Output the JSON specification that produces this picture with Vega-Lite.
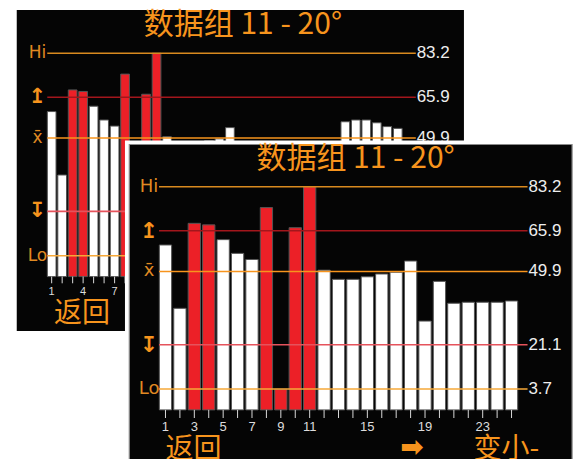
{
  "$schema": "https://vega.github.io/schema/vega-lite/v6.json",
  "width": 582,
  "height": 459,
  "autosize": {"type": "none"},
  "padding": 0,
  "background": "#ffffff",
  "config": {"view": {"stroke": null}},
  "datasets": {
    "bars": [
      {"i": 1, "v": 60.3}, {"i": 2, "v": 35.4}, {"i": 3, "v": 68.8}, {"i": 4, "v": 68.2},
      {"i": 5, "v": 62.4}, {"i": 6, "v": 57.0}, {"i": 7, "v": 54.6}, {"i": 8, "v": 75.0},
      {"i": 9, "v": 3.6}, {"i": 10, "v": 67.1}, {"i": 11, "v": 83.2}, {"i": 12, "v": 50.4},
      {"i": 13, "v": 46.8}, {"i": 14, "v": 46.8}, {"i": 15, "v": 47.8}, {"i": 16, "v": 48.9},
      {"i": 17, "v": 49.6}, {"i": 18, "v": 54.0}, {"i": 19, "v": 30.4}, {"i": 20, "v": 46.0},
      {"i": 21, "v": 37.4}, {"i": 22, "v": 37.8}, {"i": 23, "v": 37.8}, {"i": 24, "v": 37.8},
      {"i": 25, "v": 38.3}, {"i": 26, "v": 39.0}, {"i": 27, "v": 41.0}, {"i": 28, "v": 44.0},
      {"i": 29, "v": 56.3}, {"i": 30, "v": 57.0}, {"i": 31, "v": 57.0}, {"i": 32, "v": 55.9},
      {"i": 33, "v": 54.4}, {"i": 34, "v": 53.7}
    ],
    "levels": [
      {"name": "Hi", "sym": "Hi", "v": 83.2, "icon": false},
      {"name": "up", "sym": "↥", "v": 65.9, "icon": true},
      {"name": "mean", "sym": "x̄", "v": 49.9, "icon": false},
      {"name": "down", "sym": "↧", "v": 21.1, "icon": true},
      {"name": "Lo", "sym": "Lo", "v": 3.7, "icon": false}
    ],
    "one": [{}]
  },
  "resolve": {"scale": {"x": "independent", "y": "independent", "color": "independent"}},
  "layer": [
    {
      "layer": [
        {
          "data": {"name": "one"},
          "mark": {"type": "rect", "color": "#050505"},
          "encoding": {
            "x": {"datum": -2.33, "type": "quantitative", "scale": {"domain": [-3.45, 51.09], "nice": false, "zero": false}, "axis": null},
            "x2": {"datum": 40.31},
            "y": {"datum": 100.17, "type": "quantitative", "scale": {"domain": [-76.1, 104.1], "nice": false, "zero": false}, "axis": null},
            "y2": {"datum": -25.85}
          }
        },
        {
          "data": {"name": "bars"},
          "mark": {"type": "bar", "width": 8.7, "stroke": "#555555", "strokeWidth": 1},
          "encoding": {
            "x": {"field": "i", "type": "quantitative", "scale": {"domain": [-3.45, 51.09], "nice": false, "zero": false}, "axis": null},
            "y": {"field": "v", "type": "quantitative", "scale": {"domain": [-76.1, 104.1], "nice": false, "zero": false}, "axis": null},
            "y2": {"datum": -4.5},
            "fill": {"condition": {"test": "datum.v > 65.9 || datum.v < 21.1", "value": "#EC2027"}, "value": "#ffffff"}
          }
        },
        {
          "data": {"name": "bars"},
          "mark": {"type": "rule", "color": "#d8d8d8", "strokeWidth": 1},
          "encoding": {
            "x": {"field": "i", "type": "quantitative", "scale": {"domain": [-3.45, 51.09], "nice": false, "zero": false}, "axis": null},
            "y": {"datum": -4.5, "type": "quantitative", "scale": {"domain": [-76.1, 104.1], "nice": false, "zero": false}, "axis": null},
            "y2": {"datum": -7.12}
          }
        },
        {
          "data": {"name": "levels"},
          "mark": {"type": "rule", "strokeWidth": 1.6},
          "encoding": {
            "x": {"datum": 0.58, "type": "quantitative", "scale": {"domain": [-3.45, 51.09], "nice": false, "zero": false}, "axis": null},
            "x2": {"datum": 35.72},
            "y": {"field": "v", "type": "quantitative", "scale": {"domain": [-76.1, 104.1], "nice": false, "zero": false}, "axis": null},
            "color": {"field": "name", "type": "nominal", "scale": {"domain": ["Hi", "up", "mean", "down", "Lo"], "range": ["#D98A1F", "#A3161C", "#F7941D", "#E5535C", "#F6A838"]}, "legend": null}
          }
        },
        {
          "data": {"name": "levels"},
          "transform": [{"filter": "!datum.icon"}],
          "mark": {"type": "text", "align": "center", "baseline": "middle", "font": "DejaVu Sans", "fontSize": 17, "color": "#E08A22"},
          "encoding": {
            "x": {"datum": -0.36, "type": "quantitative", "scale": {"domain": [-3.45, 51.09], "nice": false, "zero": false}, "axis": null},
            "y": {"field": "v", "type": "quantitative", "scale": {"domain": [-76.1, 104.1], "nice": false, "zero": false}, "axis": null},
            "text": {"field": "sym"}
          }
        },
        {
          "data": {"name": "levels"},
          "transform": [{"filter": "datum.icon"}],
          "mark": {"type": "text", "align": "center", "baseline": "middle", "font": "DejaVu Sans", "fontSize": 21, "fontWeight": "bold", "color": "#F7941D"},
          "encoding": {
            "x": {"datum": -0.36, "type": "quantitative", "scale": {"domain": [-3.45, 51.09], "nice": false, "zero": false}, "axis": null},
            "y": {"field": "v", "type": "quantitative", "scale": {"domain": [-76.1, 104.1], "nice": false, "zero": false}, "axis": null},
            "text": {"field": "sym"}
          }
        },
        {
          "data": {"name": "levels"},
          "mark": {"type": "text", "align": "left", "baseline": "middle", "font": "Liberation Sans", "fontSize": 17, "color": "#eeeeee"},
          "encoding": {
            "x": {"datum": 35.8, "type": "quantitative", "scale": {"domain": [-3.45, 51.09], "nice": false, "zero": false}, "axis": null},
            "y": {"field": "v", "type": "quantitative", "scale": {"domain": [-76.1, 104.1], "nice": false, "zero": false}, "axis": null},
            "text": {"field": "v", "type": "quantitative", "format": ".1f"}
          }
        },
        {
          "data": {"name": "bars"},
          "transform": [{"filter": "(datum.i - 1) % 3 == 0"}],
          "mark": {"type": "text", "align": "center", "baseline": "middle", "font": "Liberation Sans", "fontSize": 11, "color": "#dddddd"},
          "encoding": {
            "x": {"field": "i", "type": "quantitative", "scale": {"domain": [-3.45, 51.09], "nice": false, "zero": false}, "axis": null},
            "y": {"datum": -10.54, "type": "quantitative", "scale": {"domain": [-76.1, 104.1], "nice": false, "zero": false}, "axis": null},
            "text": {"field": "i", "type": "quantitative"}
          }
        },
        {
          "data": {"name": "one"},
          "mark": {"type": "text", "text": "数据组 11 - 20°", "align": "center", "baseline": "middle", "font": "Noto Sans CJK SC", "fontSize": 30, "color": "#F7941D"},
          "encoding": {
            "x": {"datum": 19.23, "type": "quantitative", "scale": {"domain": [-3.45, 51.09], "nice": false, "zero": false}, "axis": null},
            "y": {"datum": 94.29, "type": "quantitative", "scale": {"domain": [-76.1, 104.1], "nice": false, "zero": false}, "axis": null}
          }
        },
        {
          "data": {"name": "one"},
          "mark": {"type": "text", "text": "返回", "align": "center", "baseline": "middle", "font": "Noto Sans CJK SC", "fontSize": 28, "color": "#F7941D"},
          "encoding": {
            "x": {"datum": 3.89, "type": "quantitative", "scale": {"domain": [-3.45, 51.09], "nice": false, "zero": false}, "axis": null},
            "y": {"datum": -19.17, "type": "quantitative", "scale": {"domain": [-76.1, 104.1], "nice": false, "zero": false}, "axis": null}
          }
        }
      ]
    },
    {
      "layer": [
        {
          "data": {"name": "one"},
          "mark": {"type": "rect", "color": "#ffffff"},
          "encoding": {
            "x": {"datum": -1.81, "type": "quantitative", "scale": {"domain": [-10.13, 29.54], "nice": false, "zero": false}, "axis": null},
            "x2": {"datum": 29.54},
            "y": {"datum": 101.35, "type": "quantitative", "scale": {"domain": [-23.8, 156.56], "nice": false, "zero": false}, "axis": null},
            "y2": {"datum": -23.8}
          }
        },
        {
          "data": {"name": "one"},
          "mark": {"type": "rect", "fill": "#050505", "stroke": "#8a8a8a", "strokeWidth": 1.2},
          "encoding": {
            "x": {"datum": -1.51, "type": "quantitative", "scale": {"domain": [-10.13, 29.54], "nice": false, "zero": false}, "axis": null},
            "x2": {"datum": 29.2},
            "y": {"datum": 99.78, "type": "quantitative", "scale": {"domain": [-23.8, 156.56], "nice": false, "zero": false}, "axis": null},
            "y2": {"datum": -26}
          }
        },
        {
          "data": {"name": "bars"},
          "transform": [{"filter": "datum.i <= 25"}],
          "mark": {"type": "bar", "width": 12.3, "stroke": "#555555", "strokeWidth": 1},
          "encoding": {
            "x": {"field": "i", "type": "quantitative", "scale": {"domain": [-10.13, 29.54], "nice": false, "zero": false}, "axis": null},
            "y": {"field": "v", "type": "quantitative", "scale": {"domain": [-23.8, 156.56], "nice": false, "zero": false}, "axis": null},
            "y2": {"datum": -4.5},
            "fill": {"condition": {"test": "datum.v > 65.9 || datum.v < 21.1", "value": "#EC2027"}, "value": "#ffffff"}
          }
        },
        {
          "data": {"name": "bars"},
          "transform": [{"filter": "datum.i <= 25"}],
          "mark": {"type": "rule", "color": "#d8d8d8", "strokeWidth": 1},
          "encoding": {
            "x": {"field": "i", "type": "quantitative", "scale": {"domain": [-10.13, 29.54], "nice": false, "zero": false}, "axis": null},
            "y": {"datum": -4.5, "type": "quantitative", "scale": {"domain": [-23.8, 156.56], "nice": false, "zero": false}, "axis": null},
            "y2": {"datum": -7.69}
          }
        },
        {
          "data": {"name": "levels"},
          "mark": {"type": "rule", "strokeWidth": 1.6},
          "encoding": {
            "x": {"datum": 0.55, "type": "quantitative", "scale": {"domain": [-10.13, 29.54], "nice": false, "zero": false}, "axis": null},
            "x2": {"datum": 26.11},
            "y": {"field": "v", "type": "quantitative", "scale": {"domain": [-23.8, 156.56], "nice": false, "zero": false}, "axis": null},
            "color": {"field": "name", "type": "nominal", "scale": {"domain": ["Hi", "up", "mean", "down", "Lo"], "range": ["#D98A1F", "#A3161C", "#F7941D", "#E5535C", "#F6A838"]}, "legend": null}
          }
        },
        {
          "data": {"name": "levels"},
          "transform": [{"filter": "!datum.icon"}],
          "mark": {"type": "text", "align": "center", "baseline": "middle", "font": "DejaVu Sans", "fontSize": 18, "color": "#E08A22"},
          "encoding": {
            "x": {"datum": -0.14, "type": "quantitative", "scale": {"domain": [-10.13, 29.54], "nice": false, "zero": false}, "axis": null},
            "y": {"field": "v", "type": "quantitative", "scale": {"domain": [-23.8, 156.56], "nice": false, "zero": false}, "axis": null},
            "text": {"field": "sym"}
          }
        },
        {
          "data": {"name": "levels"},
          "transform": [{"filter": "datum.icon"}],
          "mark": {"type": "text", "align": "center", "baseline": "middle", "font": "DejaVu Sans", "fontSize": 22, "fontWeight": "bold", "color": "#F7941D"},
          "encoding": {
            "x": {"datum": -0.14, "type": "quantitative", "scale": {"domain": [-10.13, 29.54], "nice": false, "zero": false}, "axis": null},
            "y": {"field": "v", "type": "quantitative", "scale": {"domain": [-23.8, 156.56], "nice": false, "zero": false}, "axis": null},
            "text": {"field": "sym"}
          }
        },
        {
          "data": {"name": "levels"},
          "mark": {"type": "text", "align": "left", "baseline": "middle", "font": "Liberation Sans", "fontSize": 17, "color": "#eeeeee"},
          "encoding": {
            "x": {"datum": 26.17, "type": "quantitative", "scale": {"domain": [-10.13, 29.54], "nice": false, "zero": false}, "axis": null},
            "y": {"field": "v", "type": "quantitative", "scale": {"domain": [-23.8, 156.56], "nice": false, "zero": false}, "axis": null},
            "text": {"field": "v", "type": "quantitative", "format": ".1f"}
          }
        },
        {
          "data": {"name": "bars"},
          "transform": [{"filter": "indexof([1, 3, 5, 7, 9, 11, 15, 19, 23], datum.i) >= 0"}],
          "mark": {"type": "text", "align": "center", "baseline": "middle", "font": "Liberation Sans", "fontSize": 13, "color": "#dddddd"},
          "encoding": {
            "x": {"field": "i", "type": "quantitative", "scale": {"domain": [-10.13, 29.54], "nice": false, "zero": false}, "axis": null},
            "y": {"datum": -11.23, "type": "quantitative", "scale": {"domain": [-23.8, 156.56], "nice": false, "zero": false}, "axis": null},
            "text": {"field": "i", "type": "quantitative"}
          }
        },
        {
          "data": {"name": "one"},
          "mark": {"type": "text", "text": "数据组 11 - 20°", "align": "center", "baseline": "middle", "font": "Noto Sans CJK SC", "fontSize": 30, "color": "#F7941D"},
          "encoding": {
            "x": {"datum": 14.18, "type": "quantitative", "scale": {"domain": [-10.13, 29.54], "nice": false, "zero": false}, "axis": null},
            "y": {"datum": 94.08, "type": "quantitative", "scale": {"domain": [-23.8, 156.56], "nice": false, "zero": false}, "axis": null}
          }
        },
        {
          "data": {"name": "one"},
          "mark": {"type": "text", "text": "返回", "align": "center", "baseline": "middle", "font": "Noto Sans CJK SC", "fontSize": 28, "color": "#F7941D"},
          "encoding": {
            "x": {"datum": 2.94, "type": "quantitative", "scale": {"domain": [-10.13, 29.54], "nice": false, "zero": false}, "axis": null},
            "y": {"datum": -20.4, "type": "quantitative", "scale": {"domain": [-23.8, 156.56], "nice": false, "zero": false}, "axis": null}
          }
        },
        {
          "data": {"name": "one"},
          "mark": {"type": "text", "text": "➡", "align": "center", "baseline": "middle", "font": "DejaVu Sans", "fontSize": 28, "fontWeight": "bold", "color": "#F7941D"},
          "encoding": {
            "x": {"datum": 18.09, "type": "quantitative", "scale": {"domain": [-10.13, 29.54], "nice": false, "zero": false}, "axis": null},
            "y": {"datum": -19.48, "type": "quantitative", "scale": {"domain": [-23.8, 156.56], "nice": false, "zero": false}, "axis": null}
          }
        },
        {
          "data": {"name": "one"},
          "mark": {"type": "text", "text": "变小-", "align": "left", "baseline": "middle", "font": "Noto Sans CJK SC", "fontSize": 28, "color": "#F7941D"},
          "encoding": {
            "x": {"datum": 22.36, "type": "quantitative", "scale": {"domain": [-10.13, 29.54], "nice": false, "zero": false}, "axis": null},
            "y": {"datum": -20.4, "type": "quantitative", "scale": {"domain": [-23.8, 156.56], "nice": false, "zero": false}, "axis": null}
          }
        }
      ]
    }
  ]
}
